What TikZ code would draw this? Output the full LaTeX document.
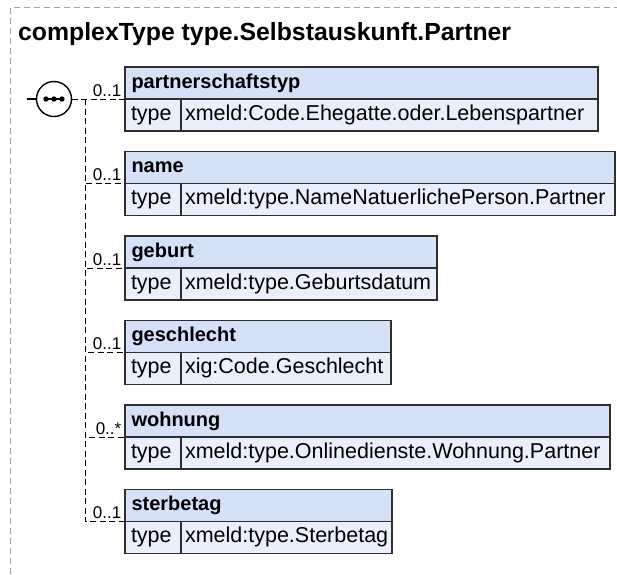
\documentclass[tikz,border=0pt]{standalone}
\usepackage{fontspec}
\setmainfont{Liberation Sans}
\definecolor{hdrfill}{HTML}{D4E1F7}
\definecolor{typefill}{HTML}{EAF0FB}
\definecolor{boxline}{HTML}{2E2E2E}
\definecolor{framegray}{HTML}{A0A0A0}
\newcommand{\elbox}[7]{%
  \node[hdr, text width=#4pt] (#1h) at (125,#2) {#5};
  \node[tcell] (#1t) at (#1h.south west) {type};
  \node[vcell, text width=#3pt] (#1v) at (#1t.north east) {#6};
  \node[occ] (#1o) at ($(#1h.south west)+(-3.5,-3)$) {#7};
}
\usetikzlibrary{calc}
\begin{document}
\begin{tikzpicture}[x=1pt,y=-1pt,
  boxbase/.style={draw=boxline, line width=1.4pt, outer sep=0pt, anchor=north west, minimum height=32pt, inner ysep=0pt, align=left},
  hdr/.style={boxbase, fill=hdrfill, inner xsep=6.5pt, font=\fontsize{20}{24}\selectfont\bfseries, text height=14.5pt, text depth=4.5pt},
  tcell/.style={boxbase, fill=typefill, inner xsep=6pt, font=\fontsize{21.5}{24}\selectfont, text height=15pt, text depth=4.5pt, text width=44pt},
  vcell/.style={boxbase, fill=typefill, inner xsep=4pt, font=\fontsize{21.5}{24}\selectfont, text height=15pt, text depth=4.5pt},
  conn/.style={black, line width=1pt, dash pattern=on 6pt off 3.5pt},
  occ/.style={font=\fontsize{17}{20}\selectfont, anchor=base east, inner sep=0pt},
  seqcirc/.style={circle, draw=black, line width=1.4pt, minimum size=35pt, inner sep=0pt, outer sep=0pt, fill=white},
  framel/.style={draw=framegray, line width=1pt, dash pattern=on 6pt off 4pt}
]
\useasboundingbox (0,0) rectangle (617,574);
\draw[framel] (10.5,574) -- (10.5,7.5) -- (617,7.5);
\node[anchor=base west, font=\fontsize{24.8}{28}\selectfont\bfseries, inner sep=0pt] (title) at (18,40) {complexType type.Selbstauskunft.Partner};

\elbox{b1}{67}{409}{460}{partnerschaftstyp}{xmeld:Code.Ehegatte.oder.Lebenspartner}{0..1}
\elbox{b2}{151.5}{426}{477}{name}{xmeld:type.NameNatuerlichePerson.Partner}{0..1}
\elbox{b3}{236}{248}{299}{geburt}{xmeld:type.Geburtsdatum}{0..1}
\elbox{b4}{320.5}{202}{253}{geschlecht}{xig:Code.Geschlecht}{0..1}
\elbox{b5}{405}{421}{472}{wohnung}{xmeld:type.Onlinedienste.Wohnung.Partner}{0..*}
\elbox{b6}{489.5}{203}{254}{sterbetag}{xmeld:type.Sterbetag}{0..1}

\node[seqcirc] (seq) at (54,99) {};
\coordinate (seqin) at (27,99);
\coordinate (j1) at (85,99);
\draw[line width=1.4pt] (seqin) -- (seq.west);
\draw[line width=1.4pt] ($(seq.center)+(-10,0)$) -- ($(seq.center)+(10,0)$);
\foreach \dx in {-8,0,8} \fill ($(seq.center)+(\dx,0)$) circle (2.7pt);
\draw[conn] (seq.east) -- (b1h.south west);
\foreach \b in {b2,b3,b4,b5,b6} \draw[conn] (j1) |- (\b h.south west);
\end{tikzpicture}
\end{document}
